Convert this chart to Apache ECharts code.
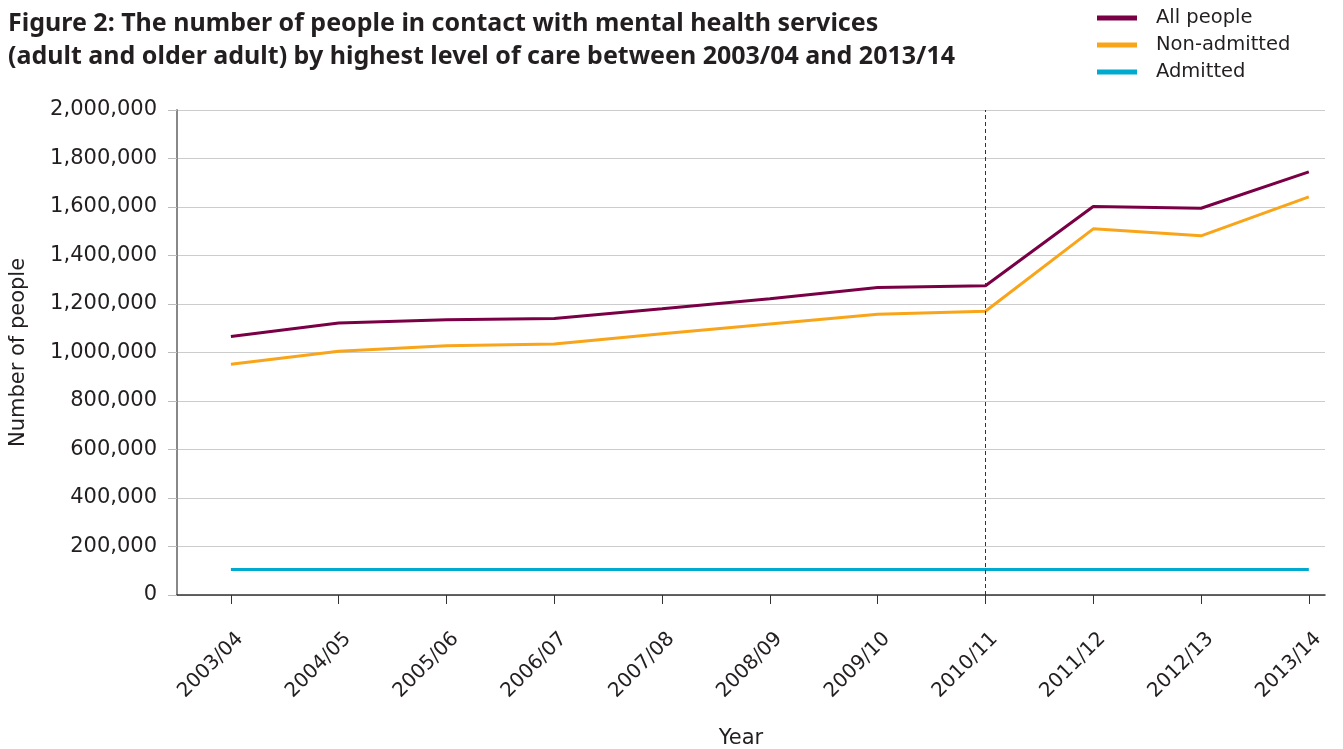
<!DOCTYPE html>
<html><head><meta charset="utf-8">
<script src="https://cdn.jsdelivr.net/npm/echarts@6/dist/echarts.min.js"></script>
<style>html,body{margin:0;padding:0;background:#fff}#c{width:1343px;height:749px}</style>
</head><body><div id="c"></div>
<script>
var categories = ['2003/04','2004/05','2005/06','2006/07','2007/08','2008/09','2009/10','2010/11','2011/12','2012/13','2013/14'];
var allPeople = [1066000,1122000,1135000,1140000,1180000,1222000,1268000,1275000,1602000,1595000,1745000];
var nonAdmitted = [952000,1005000,1028000,1035000,1077000,1118000,1158000,1170000,1510000,1481000,1642000];
var admitted = [105000,105000,105000,105000,105000,105000,105000,105000,105000,105000,105000];
var yTicks = [0,200000,400000,600000,800000,1000000,1200000,1400000,1600000,1800000,2000000];
var seriesNames = ['All people','Non-admitted','Admitted'];
var colors = ['#7a0046','#f9a51a','#00a9ce'];
var markerYear = '2010/11';

var FONT = 'DejaVu Sans';
function pos(i){ return 2*i+1; }
function pairs(arr){ return arr.map(function(v,i){ return [pos(i), v]; }); }
var catPos = categories.map(function(c,i){ return pos(i); });

var chart = echarts.init(document.getElementById('c'));
chart.setOption({
  animation:false,
  textStyle:{fontFamily:FONT},
  title:{
    text:'Figure 2: The number of people in contact with mental health services\n(adult and older adult) by highest level of care between 2003/04 and 2013/14',
    left:3, top:2,
    textStyle:{fontFamily:'Noto Sans', fontSize:25, fontWeight:'bold', color:'#231f20', lineHeight:33}
  },
  legend:{
    orient:'vertical', left:1092, top:3, itemWidth:40, itemHeight:5, itemGap:7,
    icon:'rect',
    textStyle:{fontFamily:FONT, fontSize:19.5, lineHeight:20, color:'#231f20', padding:[0,0,0,14]},
    data:seriesNames
  },
  grid:{left:177, right:18, top:110, bottom:154, containLabel:false, outerBoundsMode:'none'},
  xAxis:{
    type:'value', min:0, max:21.3,
    name:'Year', nameLocation:'middle', nameGap:133,
    nameTextStyle:{fontFamily:FONT, fontSize:21, color:'#231f20', padding:[0,20,0,0]},
    axisLine:{show:true, lineStyle:{color:'#333', width:1.5}},
    axisTick:{show:true, customValues:catPos, length:9, lineStyle:{color:'#333'}},
    axisLabel:{customValues:catPos, rotate:45, fontSize:20, color:'#231f20', margin:50, padding:[0,-13,0,0],
      formatter:function(v){ return categories[Math.round((v-1)/2)]; }},
    splitLine:{show:false}
  },
  yAxis:{
    type:'value', min:yTicks[0], max:yTicks[yTicks.length-1], interval:yTicks[1]-yTicks[0],
    name:'Number of people', nameLocation:'middle', nameGap:148,
    nameTextStyle:{fontFamily:FONT, fontSize:21, color:'#231f20'},
    axisLine:{show:true, lineStyle:{color:'#888', width:2}},
    axisTick:{show:true, length:9, lineStyle:{color:'#bbb'}},
    axisLabel:{fontSize:21, color:'#231f20', margin:20,
      formatter:function(v){ return v.toLocaleString('en-GB'); }},
    splitLine:{show:true, lineStyle:{color:'#cccccc', width:1}}
  },
  series:[
    {name:seriesNames[0], type:'line', data:pairs(allPeople), symbol:'none', color:colors[0], lineStyle:{width:3, color:colors[0]},
     markLine:{silent:true, symbol:'none', label:{show:false}, lineStyle:{type:[4,3], color:'#333', width:1},
       data:[{xAxis:pos(categories.indexOf(markerYear))}]}},
    {name:seriesNames[1], type:'line', data:pairs(nonAdmitted), symbol:'none', color:colors[1], lineStyle:{width:3, color:colors[1]}},
    {name:seriesNames[2], type:'line', data:pairs(admitted), symbol:'none', color:colors[2], lineStyle:{width:3, color:colors[2]}}
  ]
});
</script></body></html>
